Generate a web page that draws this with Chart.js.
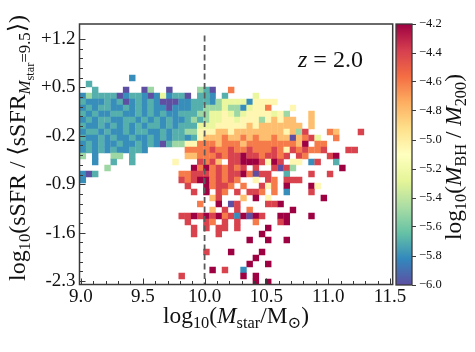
<!DOCTYPE html>
<html><head><meta charset="utf-8">
<script src="https://cdn.jsdelivr.net/npm/chart.js@4.4.1/dist/chart.umd.min.js"></script>
<style>
html,body{margin:0;padding:0;background:#fff;}
#wrap{position:relative;width:475px;height:352px;overflow:hidden;}
canvas{position:absolute;left:0;top:0;}
</style></head><body>
<div id="wrap"><canvas id="main" width="475" height="352"></canvas><canvas id="cbar" width="475" height="352"></canvas></div>
<script>
// ---------------- data ----------------
const xTickValues = [9.0, 9.5, 10.0, 10.5, 11.0, 11.5];
const yTickValues = [-2.3, -1.6, -0.9, -0.2, 0.5, 1.2];
const cbarTickValues = [-6.0, -5.8, -5.6, -5.4, -5.2, -5.0, -4.8, -4.6, -4.4, -4.2];
const xBinStart = 8.99, xBinWidth = 0.05;      // log10(Mstar) bins
const yBinStart = -2.358, yBinHeight = 0.0868; // log10(sSFR/<sSFR>) bins
// code digit -> log10(M_BH/M_200)
const levelValues = [-6.0, -5.8, -5.7, -5.5, -5.25, -5.05, -4.8, -4.6, -4.4, -4.2];
const dashX = 10.0, dashTop = 1.25;
const zLabel = 'z = 2.0';
// grid rows, top row first; one char per mass bin ('.' = empty bin)
const gridRows = [
"........1. .......... .......... .......... ..........",
".2........ .......... .......... .......... ..........",
"..2....0.. 03..0....3 20..7..... .......... ..........",
"1322220122 10141220.2 21.2....4. .......... ..........",
"2111212012 1210001122 2134444155 55........ ..........",
"1212211212 1211011122 3334331455 7...5..... ..........",
"2121122112 1212112223 3445434555 5453...6.. ..........",
"1212211221 2121211232 3445545553 56566..6.. ..........",
"2112121212 1221212224 4455555656 666666.6.. ..........",
"1221211212 2112122335 5566566666 6665638... 76...8....",
"2112121121 1212122125 6667667676 676606784. .7........",
"1212112112 1210233557 7767776777 7777769.77 ..........",
"1212121122 1......777 7877877877 7875878778 ...88.....",
"3.1..33.2. .......667 7787889887 8878.87... 89........",
"..1..2..2. .....5...8 786.889998 598.55.18. .2........",
"....3..... ........97 9787878.8. .8083..... ..9.......",
"102....... ......7788 8787889708 8..2...8.. 8.........",
"1......... ......8789 978787..5. 87.888.... ..........",
".......... .......8.. 97887.7..8 57.9...95. ..........",
".......... ........8. 9.87.8.887 .7.1...8.. ..........",
".......... .......... .68...6.9. 5........9 ..........",
".......... .........7 ..9.08.... 889....... ..........",
".......... .......... .6.8.8.7.. ....9..... ..........",
".......... ......8898 9897819098 ..99...9.. ..........",
".......... .......8.. 87.8.8..7. ..89...... ..........",
".......... ........8. 8.88.8.... 9......... ..........",
".......... ........8. ..8......9 .......... ..........",
".......... .......... .......9.. 9..9...... ..........",
".......... .......... .......... .......... ..........",
".......... .......... 8...9....9 .......... ..........",
".......... .......... ........9. .......... ..........",
".......... .......... .......9.. 9......... ..........",
".......... .......... .9.8..1... .......... ..........",
".......... ......8... ......9.9. .......... ..........",
".......... .......... ........9. 9......... .........."
];

// ---------------- styles ----------------
const SPECTRAL_R = ['#5e4fa2','#3288bd','#66c2a5','#abdda4','#e6f598','#ffffbf','#fee08b','#fdae61','#f46d43','#d53e4f','#9e0142'];
const CMIN = -6.0, CMAX = -4.2;
const SERIF = '"Liberation Serif", "DejaVu Serif", serif';
const FRAME = '#3a3a3a';

function hex2rgb(h){return [parseInt(h.slice(1,3),16),parseInt(h.slice(3,5),16),parseInt(h.slice(5,7),16)];}
const STOPS = SPECTRAL_R.map(hex2rgb);
function colorFor(v){
  let t = (v - CMIN) / (CMAX - CMIN); t = Math.max(0, Math.min(1, t));
  const f = t * 10, i = Math.min(9, Math.floor(f)), u = f - i;
  const a = STOPS[i], b = STOPS[i+1];
  return 'rgb(' + [0,1,2].map(k => Math.round(a[k] + (b[k]-a[k])*u)).join(',') + ')';
}

const cells = [];
gridRows.forEach((row, i) => {
  const r = gridRows.length - 1 - i;
  const s = row.replace(/ /g, '');
  for (let c = 0; c < s.length; c++) {
    const ch = s[c];
    if (ch === '.') continue;
    cells.push({x: xBinStart + xBinWidth * (c + 0.5), y: yBinStart + yBinHeight * (r + 0.5), v: levelValues[+ch]});
  }
});
const dashLine = [{x: dashX, y: dashTop}, {x: dashX, y: -3}];

function cellRadius(chart){
  const xs = chart.scales.x, ys = chart.scales.y;
  if (!xs || !ys) return 4;
  const w = Math.abs(xs.getPixelForValue(xBinStart + xBinWidth) - xs.getPixelForValue(xBinStart));
  const h = Math.abs(ys.getPixelForValue(yBinStart + yBinHeight) - ys.getPixelForValue(yBinStart));
  return (Math.max(w, h) + 0.25) / Math.SQRT2;
}

// rich text: segments [text, level(0 normal,1 sub,2 subsub), italic]
function segFont(size, lvl, it){
  const fs = size * (lvl === 0 ? 1 : lvl === 1 ? 0.7 : 0.52);
  return (it ? 'italic ' : '') + fs.toFixed(2) + 'px ' + SERIF;
}
function richWidth(ctx, segs, size){
  let w = 0;
  segs.forEach(([t, l, it]) => { ctx.font = segFont(size, l, it); w += ctx.measureText(t).width; });
  return w;
}
function drawRich(ctx, segs, o){
  ctx.save();
  let size = o.size;
  if (o.fit) size = size * o.fit / richWidth(ctx, segs, size);
  const total = richWidth(ctx, segs, size);
  ctx.translate(o.x, o.y);
  if (o.rot) ctx.rotate(-Math.PI / 2);
  ctx.fillStyle = '#111';
  ctx.textBaseline = 'alphabetic';
  ctx.textAlign = 'left';
  let cx = o.align === 'left' ? 0 : -total / 2;
  segs.forEach(([t, l, it]) => {
    ctx.font = segFont(size, l, it);
    const dy = l === 0 ? 0 : l === 1 ? size * 0.2 : size * 0.36;
    ctx.fillText(t, cx, dy);
    cx += ctx.measureText(t).width;
  });
  ctx.restore();
}

const xTitle = [['log',0],['10',1],['(',0],['M',0,true],['star',1],['/',0],['M',0],['\u2299',1],[')',0]];
const yTitle = [['log',0],['10',1],['(sSFR / ',0],['\u27E8',0],['sSFR',0],['M',1,true],['star',2],['=9.5',1],['\u27E9',0],[')',0]];
const cTitle = [['log',0],['10',1],['(',0],['M',0,true],['BH',1],[' / ',0],['M',0,true],['200',1],[')',0]];
const zSegs = [['z',0,true],[zLabel.slice(1),0]];

const mainDecor = {
  id: 'mainDecor',
  afterDraw(chart){
    const {ctx, chartArea: a} = chart;
    const xs = chart.scales.x, ys = chart.scales.y;
    ctx.save();
    // inward tick marks
    ctx.strokeStyle = FRAME; ctx.lineWidth = 1;
    for (let k = 0; k <= 25; k++) {
      const v = 9.0 + k * 0.1, p = Math.round(xs.getPixelForValue(v)) + 0.5;
      const L = (k % 5 === 0) ? 6 : 3.5;
      ctx.beginPath(); ctx.moveTo(p, a.bottom); ctx.lineTo(p, a.bottom - L); ctx.stroke();
    }
    for (let k = 0; k <= 25; k++) {
      const v = -2.3 + k * 0.14, p = Math.round(ys.getPixelForValue(v)) + 0.5;
      const L = (k % 5 === 0) ? 6 : 3.5;
      ctx.beginPath(); ctx.moveTo(a.left, p); ctx.lineTo(a.left + L, p); ctx.stroke();
    }
    // frame
    ctx.lineWidth = 1.5;
    ctx.strokeRect(a.left, a.top, a.right - a.left, a.bottom - a.top);
    ctx.restore();
    drawRich(ctx, xTitle, {x: 236, y: 323, size: 20, fit: 146});
    drawRich(ctx, yTitle, {x: 25, y: 148, size: 20, fit: 266, rot: true});
    drawRich(ctx, zSegs, {x: 298, y: 67, size: 22, fit: 65, align: 'left'});
  }
};

new Chart(document.getElementById('main'), {
  type: 'scatter',
  data: {datasets: [
    {type: 'line', data: dashLine, borderColor: '#5a5a5a', borderWidth: 1.8, borderDash: [6, 3.5], pointRadius: 0, fill: false, order: 0},
    {data: cells, pointStyle: 'rect', backgroundColor: c => colorFor(c.raw.v), borderWidth: 0,
     pointRadius: c => cellRadius(c.chart), pointHoverRadius: c => cellRadius(c.chart), order: 1}
  ]},
  options: {
    responsive: false, animation: false, devicePixelRatio: 1, events: [],
    layout: {padding: {left: 0, top: 24, right: 82.3, bottom: 0}},
    plugins: {legend: {display: false}, tooltip: {enabled: false}},
    scales: {
      x: {type: 'linear', min: 8.988, max: 11.522,
          afterFit: s => { s.height = 67.5; },
          afterBuildTicks: s => { s.ticks = xTickValues.map(v => ({value: v})); },
          ticks: {callback: v => v.toFixed(1), font: {family: SERIF, size: 19}, color: '#111', padding: 1, maxRotation: 0, autoSkip: false},
          grid: {display: false, drawTicks: false}, border: {display: false}},
      y: {type: 'linear', min: -2.3506, max: 1.417,
          afterFit: s => { s.width = 79.5; },
          afterBuildTicks: s => { s.ticks = yTickValues.map(v => ({value: v})); },
          ticks: {callback: v => (v > 0 ? '+' : '') + v.toFixed(1), font: {family: SERIF, size: 19}, color: '#111', padding: 4, autoSkip: false},
          grid: {display: false, drawTicks: false}, border: {display: false}}
    }
  },
  plugins: [mainDecor]
});

const cbarDecor = {
  id: 'cbarDecor',
  afterDraw(chart){
    const {ctx, chartArea: a} = chart;
    ctx.save();
    ctx.strokeStyle = FRAME; ctx.lineWidth = 1.3;
    ctx.strokeRect(a.left, a.top, a.right - a.left, a.bottom - a.top);
    ctx.restore();
    drawRich(ctx, cTitle, {x: 461, y: 157, size: 19, fit: 166, rot: true});
  }
};

new Chart(document.getElementById('cbar'), {
  type: 'bar',
  data: {labels: ['c'], datasets: [{
    data: [[CMIN, CMAX]], borderWidth: 0, barPercentage: 1, categoryPercentage: 1,
    backgroundColor: c => {
      const ch = c.chart, ys = ch.scales.y;
      if (!ys || !ch.chartArea) return '#999';
      const g = ch.ctx.createLinearGradient(0, ys.getPixelForValue(CMIN), 0, ys.getPixelForValue(CMAX));
      SPECTRAL_R.forEach((col, i) => g.addColorStop(i / 10, col));
      return g;
    }
  }]},
  options: {
    responsive: false, animation: false, devicePixelRatio: 1, events: [],
    layout: {padding: {left: 396, top: 24, right: 0, bottom: 67}},
    plugins: {legend: {display: false}, tooltip: {enabled: false}},
    scales: {
      x: {display: false},
      y: {position: 'right', min: CMIN, max: CMAX,
          afterFit: s => { s.width = 63; },
          afterBuildTicks: s => { s.ticks = cbarTickValues.map(v => ({value: v})); },
          ticks: {callback: v => '\u2212' + Math.abs(v).toFixed(1), font: {family: SERIF, size: 12.5}, color: '#111', padding: 3, autoSkip: false},
          grid: {display: true, drawOnChartArea: false, drawTicks: true, tickLength: 4, color: FRAME, lineWidth: 1},
          border: {display: false}}
    }
  },
  plugins: [cbarDecor]
});
</script>
</body></html>
